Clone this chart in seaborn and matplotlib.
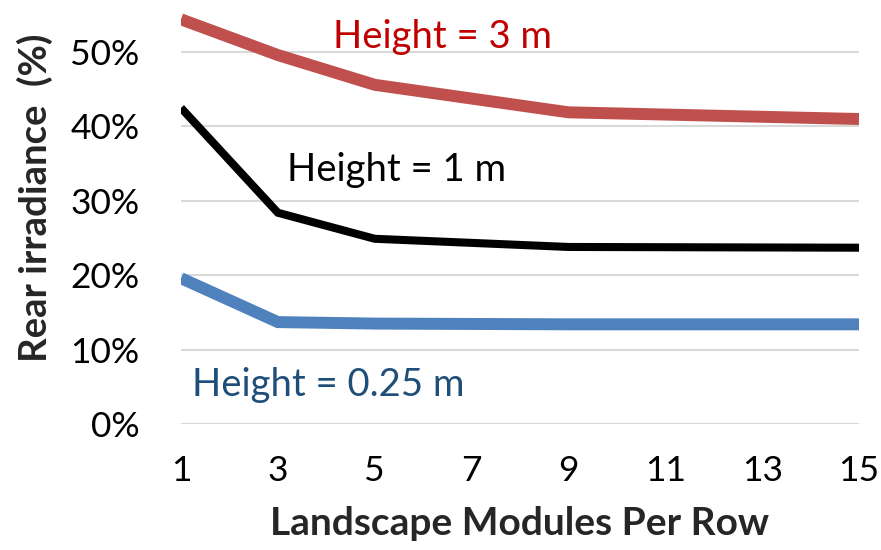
import matplotlib
matplotlib.use("Agg")
import matplotlib.pyplot as plt
import seaborn as sns
import pandas as pd
from matplotlib.ticker import PercentFormatter

modules = [1, 3, 5, 9, 15]
height_3m = [0.544, 0.496, 0.456, 0.419, 0.410]
height_1m = [0.425, 0.284, 0.249, 0.238, 0.237]
height_025m = [0.196, 0.137, 0.135, 0.134, 0.134]
series_names = ["Height = 3 m", "Height = 1 m", "Height = 0.25 m"]
x_ticks = [1, 3, 5, 7, 9, 11, 13, 15]
y_ticks = [0, 0.1, 0.2, 0.3, 0.4, 0.5]

rows = []
for name, vals in zip(series_names, [height_3m, height_1m, height_025m]):
    for m, v in zip(modules, vals):
        rows.append({"Modules": m, "Rear": v, "Series": name})
df = pd.DataFrame(rows)

sns.set_theme(style="white")
plt.rcParams['font.family'] = ['Lato', 'DejaVu Sans']

fig = plt.figure(figsize=(8.81, 5.5), dpi=100)
ax = fig.add_axes([181/881, 126/550, (859-181)/881, 424/550])

palette = {"Height = 3 m": "#C0504D", "Height = 1 m": "#000000", "Height = 0.25 m": "#4F81BD"}
widths = {"Height = 3 m": 8.6, "Height = 1 m": 5.8, "Height = 0.25 m": 8.6}
for name in series_names:
    sub = df[df["Series"] == name]
    sns.lineplot(data=sub, x="Modules", y="Rear", color=palette[name],
                 linewidth=widths[name], ax=ax, legend=False,
                 solid_capstyle="butt", solid_joinstyle="miter", zorder=3)

ax.set_xlim(1, 15)
ax.set_ylim(0, 0.57)
ax.set_xticks(x_ticks)
ax.set_yticks(y_ticks)
ax.yaxis.set_major_formatter(PercentFormatter(1.0, decimals=0))
ax.grid(axis="y", color="#D9D9D9", linewidth=1.5, zorder=0)
ax.grid(axis="x", visible=False)
for s in ax.spines.values():
    s.set_visible(False)
ax.tick_params(axis="both", length=0, labelsize=25.5, colors="black")
ax.tick_params(axis="y", pad=30)
ax.tick_params(axis="x", pad=22)
ax.set_xlabel("Landscape Modules Per Row", fontsize=28, fontweight="bold", labelpad=14)
ax.set_ylabel("")
fig.text(35/881, 1 - 198/550, "Rear irradiance  (%)", rotation=90, fontsize=27.5,
         fontweight="bold", ha="center", va="center")

fig.text(333/881, 1 - 37/550, "Height = 3 m", color="#C00000", fontsize=27.5, va="center", ha="left")
fig.text(287/881, 1 - 170/550, "Height = 1 m", color="#000000", fontsize=27.5, va="center", ha="left")
fig.text(192/881, 1 - 385/550, "Height = 0.25 m", color="#1F4E79", fontsize=27.5, va="center", ha="left")

fig.savefig("out.png", dpi=100, facecolor="white")
